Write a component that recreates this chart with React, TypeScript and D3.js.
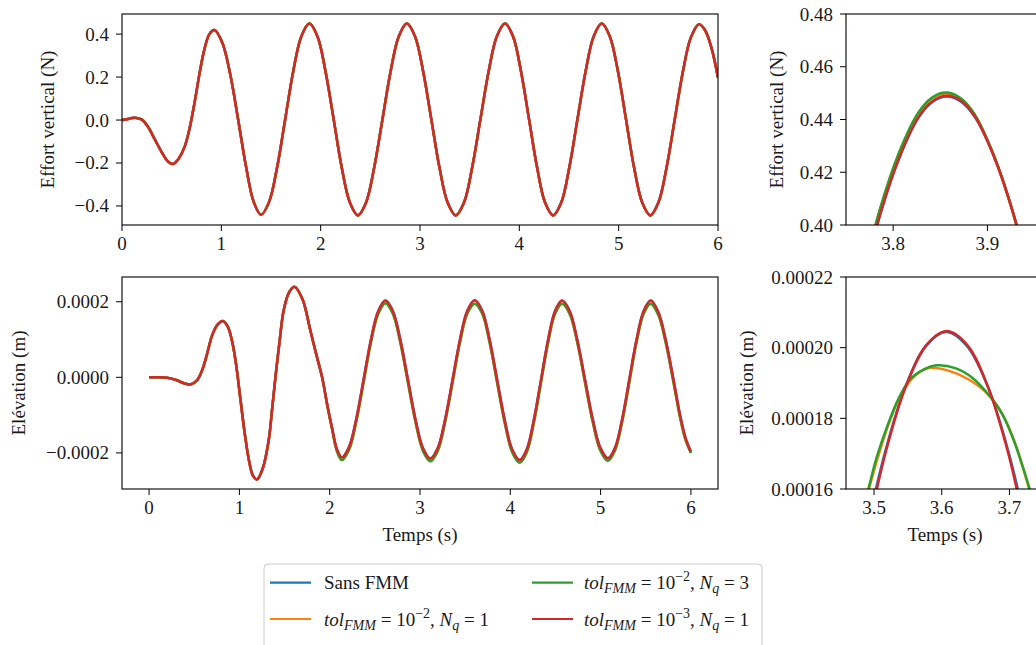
import React from 'react';
import * as d3 from 'd3';

// ---------- DATA ----------
const seriesLabels = ['Sans FMM', 'tol 1e-2 Nq 1', 'tol 1e-2 Nq 3', 'tol 1e-3 Nq 1'];
const seriesColors = ['#1f77b4', '#ff7f0e', '#2ca02c', '#d62728'];

// Effort vertical (N) vs Temps (s)
const forceTime = [0.000, 0.050, 0.100, 0.145, 0.200, 0.260, 0.330, 0.400, 0.460, 0.515, 0.570, 0.630, 0.680, 0.730, 0.780, 0.830, 0.880, 0.930,
  1.010, 1.090, 1.170, 1.250, 1.325, 1.400, 1.481, 1.562, 1.643, 1.724, 1.805, 1.886, 1.968, 2.049, 2.131, 2.212, 2.294, 2.375,
  2.457, 2.539, 2.622, 2.704, 2.786, 2.868, 2.950, 3.032, 3.114, 3.196, 3.278, 3.360, 3.443, 3.525, 3.608, 3.691, 3.773, 3.856,
  3.937, 4.017, 4.098, 4.179, 4.259, 4.340, 4.422, 4.503, 4.585, 4.667, 4.748, 4.830, 4.911, 4.993, 5.074, 5.155, 5.237, 5.318,
  5.400, 5.482, 5.564, 5.646, 5.728, 5.810, 5.870, 5.935, 6.000];
const forceValue = [0.000, 0.004, 0.009, 0.010, 0.002, -0.030, -0.090, -0.150, -0.192, -0.205, -0.180, -0.125, -0.040, 0.080, 0.215, 0.330, 0.400, 0.419,
  0.360, 0.212, 0.000, -0.220, -0.380, -0.441, -0.381, -0.219, 0.004, 0.227, 0.389, 0.449, 0.389, 0.226, 0.003, -0.221, -0.384, -0.444,
  -0.384, -0.221, 0.003, 0.226, 0.389, 0.449, 0.389, 0.226, 0.003, -0.221, -0.384, -0.444, -0.384, -0.221, 0.003, 0.226, 0.389, 0.449,
  0.389, 0.226, 0.003, -0.221, -0.384, -0.444, -0.384, -0.221, 0.003, 0.226, 0.389, 0.449, 0.389, 0.226, 0.003, -0.221, -0.384, -0.444,
  -0.384, -0.222, 0.001, 0.224, 0.386, 0.446, 0.418, 0.335, 0.197];

// Elévation (m) vs Temps (s)
const elevTime = [0.000, 0.100, 0.200, 0.300, 0.380, 0.457, 0.530, 0.587, 0.640, 0.698, 0.760, 0.815, 0.870, 0.915, 0.960, 1.010, 1.060, 1.110, 1.150, 1.196,
  1.260, 1.325, 1.362, 1.399, 1.445, 1.490, 1.550, 1.609, 1.697, 1.786, 1.850, 1.916, 1.975, 2.027, 2.080, 2.135,
  2.215, 2.296, 2.376, 2.456, 2.537, 2.617, 2.700, 2.783, 2.866, 2.949, 3.032, 3.115, 3.197, 3.279, 3.361, 3.442, 3.524, 3.606,
  3.689, 3.772, 3.855, 3.938, 4.021, 4.104, 4.182, 4.260, 4.339, 4.417, 4.495, 4.573, 4.658, 4.742, 4.827, 4.912, 4.996, 5.081,
  5.160, 5.239, 5.318, 5.397, 5.476, 5.555, 5.640, 5.720, 5.800, 5.880, 5.940, 6.000];
const elevSansFmm = [0.0, 0.0000005, -0.000001, -0.000007, -0.000015, -0.000019, -0.000008, 0.0000185, 0.00006, 0.000111, 0.00014, 0.000149, 0.000135, 0.0001, 0.00004, -0.000055, -0.00015, -0.000225, -0.00026, -0.00027,
  -0.00024, -0.000166, -0.000085, 0.0, 0.000095, 0.000177, 0.000225, 0.00024, 0.000208, 0.000124, 0.000062, 0.0, -0.000075, -0.000135, -0.00019, -0.000212,
  -0.000184, -0.000108, -0.000005, 0.000099, 0.000175, 0.000203, 0.000175, 0.0000985, -0.000006, -0.00011, -0.000187, -0.000215, -0.000187, -0.00011, -0.000006, 0.000099, 0.000176, 0.000204,
  0.000176, 0.0000983, -0.0000075, -0.000113, -0.000191, -0.000219, -0.000191, -0.0001135, -0.000008, 0.0000975, 0.000175, 0.000203, 0.000175, 0.0000987, -0.0000055, -0.00011, -0.000186, -0.000214,
  -0.000186, -0.00011, -0.0000055, 0.0000987, 0.000175, 0.000203, 0.000172, 0.0001, 0.000003, -0.0001, -0.00016, -0.000197];
const elevFmm = [0.0, 0.0000005, -0.000001, -0.000007, -0.000015, -0.000019, -0.000008, 0.0000185, 0.00006, 0.000111, 0.00014, 0.000149, 0.000135, 0.0001, 0.00004, -0.000055, -0.00015, -0.000225, -0.00026, -0.00027,
  -0.00024, -0.000166, -0.000085, 0.0, 0.000095, 0.000177, 0.000225, 0.00024, 0.000208, 0.000124, 0.000062, 0.0, -0.000077, -0.000138, -0.000195, -0.000219,
  -0.000191, -0.000115, -0.000012, 0.000092, 0.000168, 0.000196, 0.000168, 0.000091, -0.000013, -0.000117, -0.000194, -0.000222, -0.000194, -0.000117, -0.000013, 0.000092, 0.000169, 0.000195,
  0.000169, 0.000091, -0.000015, -0.00012, -0.000198, -0.000226, -0.000198, -0.000121, -0.000015, 0.00009, 0.000168, 0.000195, 0.000168, 0.000092, -0.000013, -0.000117, -0.000193, -0.000221,
  -0.000193, -0.000117, -0.000013, 0.000092, 0.000168, 0.000195, 0.000165, 0.000093, -0.000004, -0.000106, -0.000165, -0.0002];

// Zoom on a force peak
const zoomForceTimeA = [3.747, 3.767, 3.787, 3.807, 3.827, 3.842, 3.857, 3.872, 3.887, 3.907, 3.927, 3.947, 3.967];
const zoomForceTimeB = [3.746, 3.766, 3.786, 3.806, 3.826, 3.841, 3.856, 3.871, 3.886, 3.906, 3.926, 3.946, 3.966];
const zoomForceSansFmm = [0.343, 0.377, 0.4048, 0.4258, 0.4407, 0.4467, 0.4487, 0.4467, 0.4407, 0.4258, 0.4048, 0.377, 0.343];
const zoomForceTol2Nq1 = [0.344, 0.378, 0.4058, 0.427, 0.442, 0.448, 0.4499, 0.448, 0.442, 0.427, 0.4058, 0.378, 0.344];
const zoomForceTol2Nq3 = [0.344, 0.378, 0.406, 0.4272, 0.4422, 0.4482, 0.4502, 0.4482, 0.4422, 0.4272, 0.406, 0.378, 0.344];
const zoomForceTol3Nq1 = [0.343, 0.377, 0.405, 0.426, 0.441, 0.447, 0.449, 0.447, 0.441, 0.426, 0.405, 0.377, 0.343];

// Zoom on an elevation peak
const zoomElevTimeSansFmm = [3.4555, 3.4855, 3.5165, 3.5465, 3.577, 3.6065, 3.637, 3.668, 3.6985, 3.7295, 3.7595];
const zoomElevSansFmm = [0.0001145, 0.000145, 0.0001706, 0.000189, 0.0002005, 0.0002044, 0.0002005, 0.000189, 0.0001706, 0.000145, 0.0001145];
const zoomElevTimeTol2Nq1 = [3.46, 3.476, 3.4925, 3.505, 3.52, 3.536, 3.553, 3.568, 3.583, 3.61, 3.64, 3.67, 3.69, 3.71, 3.729, 3.742, 3.755];
const zoomElevTol2Nq1 = [0.000135, 0.000148, 0.00016, 0.0001685, 0.0001775, 0.0001852, 0.0001905, 0.0001932, 0.0001943, 0.0001935, 0.000191, 0.0001865, 0.000181, 0.000172, 0.00016, 0.000151, 0.000141];
const zoomElevTimeTol2Nq3 = [3.46, 3.475, 3.4916, 3.504, 3.519, 3.536, 3.553, 3.573, 3.593, 3.62, 3.645, 3.67, 3.69, 3.706, 3.721, 3.733, 3.745];
const zoomElevTol2Nq3 = [0.000136, 0.000148, 0.00016, 0.000169, 0.0001775, 0.0001855, 0.000191, 0.0001938, 0.000195, 0.0001942, 0.0001915, 0.0001865, 0.000181, 0.000174, 0.0001655, 0.000158, 0.00015];
const zoomElevTimeTol3Nq1 = [3.4575, 3.4875, 3.5175, 3.5475, 3.5775, 3.6075, 3.6375, 3.6675, 3.6975, 3.7275, 3.7575];
const zoomElevTol3Nq1 = [0.0001145, 0.000145, 0.0001706, 0.0001893, 0.0002008, 0.0002047, 0.0002008, 0.0001893, 0.0001706, 0.000145, 0.0001145];

// Ticks
const mainXTicks = [0, 1, 2, 3, 4, 5, 6];
const forceYTicks = [-0.4, -0.2, 0.0, 0.2, 0.4];
const forceYTickLabels = ['\u22120.4', '\u22120.2', '0.0', '0.2', '0.4'];
const elevYTicks = [-0.0002, 0.0, 0.0002];
const elevYTickLabels = ['\u22120.0002', '0.0000', '0.0002'];
const zoomForceXTicks = [3.8, 3.9, 4.0];
const zoomForceYTicks = [0.40, 0.42, 0.44, 0.46, 0.48];
const zoomForceYTickLabels = ['0.40', '0.42', '0.44', '0.46', '0.48'];
const zoomElevXTicks = [3.5, 3.6, 3.7, 3.8];
const zoomElevYTicks = [0.00016, 0.00018, 0.00020, 0.00022];
const zoomElevYTickLabels = ['0.00016', '0.00018', '0.00020', '0.00022'];

// ---------- RENDER ----------
const W = 1036;
const H = 645;
const FONT = "'Liberation Serif','Times New Roman',serif";
const FS = 19;
const TICK = 6;

type Pt = [number, number];
type Series = { color: string; pts: Pt[] };

const zip = (t: number[], v: number[]): Pt[] => t.map((x, i) => [x, v[i]] as Pt);

function padded(vals: number[]): [number, number] {
  const [a, b] = d3.extent(vals) as [number, number];
  const m = (b - a) * 0.05;
  return [a - m, b + m];
}

interface PanelProps {
  id: string;
  left: number; top: number; width: number; height: number;
  xDomain: [number, number]; yDomain: [number, number];
  xTicks: number[]; xFmt: (v: number) => string;
  yTicks: number[]; yTickLabels: string[];
  series: Series[];
  yLabel: string; yLabelX: number;
  xLabel?: string;
}

function Panel(p: PanelProps) {
  const x = d3.scaleLinear().domain(p.xDomain).range([p.left, p.left + p.width]);
  const y = d3.scaleLinear().domain(p.yDomain).range([p.top + p.height, p.top]);
  const line = d3.line<Pt>().x(d => x(d[0])).y(d => y(d[1])).curve(d3.curveCatmullRom.alpha(0.5));
  const bottom = p.top + p.height;
  const xt = p.xTicks.filter(t => t >= p.xDomain[0] - 1e-9 && t <= p.xDomain[1] + 1e-9);
  return (
    <g>
      <defs>
        <clipPath id={p.id}>
          <rect x={p.left} y={p.top} width={p.width} height={p.height} />
        </clipPath>
      </defs>
      <g clipPath={`url(#${p.id})`}>
        {p.series.map((s, i) => (
          <path key={i} d={line(s.pts) || ''} fill="none" stroke={s.color} strokeWidth={2.5}
            strokeLinejoin="round" strokeLinecap="butt" />
        ))}
      </g>
      <rect x={p.left} y={p.top} width={p.width} height={p.height} fill="none" stroke="#000" strokeWidth={1.1} />
      {xt.map(t => (
        <g key={'x' + t}>
          <line x1={x(t)} x2={x(t)} y1={bottom} y2={bottom + TICK} stroke="#000" strokeWidth={1} />
          <text x={x(t)} y={bottom + 25} textAnchor="middle" fontFamily={FONT} fontSize={FS} fill="#1a1a1a">{p.xFmt(t)}</text>
        </g>
      ))}
      {p.yTicks.map((t, i) => (
        <g key={'y' + i}>
          <line x1={p.left - TICK} x2={p.left} y1={y(t)} y2={y(t)} stroke="#000" strokeWidth={1} />
          <text x={p.left - 13} y={y(t) + 6.5} textAnchor="end" fontFamily={FONT} fontSize={FS} fill="#1a1a1a">{p.yTickLabels[i]}</text>
        </g>
      ))}
      <text transform={`translate(${p.yLabelX},${p.top + p.height / 2}) rotate(-90)`} textAnchor="middle"
        fontFamily={FONT} fontSize={FS} fill="#1a1a1a">{p.yLabel}</text>
      {p.xLabel && (
        <text x={p.left + p.width / 2} y={bottom + 52} textAnchor="middle" fontFamily={FONT} fontSize={FS} fill="#1a1a1a">{p.xLabel}</text>
      )}
    </g>
  );
}

function MathLabel({ x, y, exp, nq }: { x: number; y: number; exp: string; nq: string }) {
  const sub = 14;
  return (
    <text x={x} y={y} fontFamily={FONT} fontSize={FS} fill="#1a1a1a" xmlSpace="preserve">
      <tspan fontStyle="italic">tol</tspan>
      <tspan fontStyle="italic" fontSize={sub} dy={4}>FMM</tspan>
      <tspan dy={-4}>{' = 10'}</tspan>
      <tspan fontSize={sub} dy={-8}>{'\u2212' + exp}</tspan>
      <tspan dy={8}>{', '}</tspan>
      <tspan fontStyle="italic">N</tspan>
      <tspan fontStyle="italic" fontSize={sub} dy={4}>q</tspan>
      <tspan dy={-4}>{' = ' + nq}</tspan>
    </text>
  );
}

export default function App() {
  const forceSeries: Series[] = seriesColors.map(c => ({ color: c, pts: zip(forceTime, forceValue) }));
  const elevSeries: Series[] = [
    { color: seriesColors[0], pts: zip(elevTime, elevSansFmm) },
    { color: seriesColors[1], pts: zip(elevTime, elevFmm) },
    { color: seriesColors[2], pts: zip(elevTime, elevFmm) },
    { color: seriesColors[3], pts: zip(elevTime, elevSansFmm) },
  ];
  const zForce: Series[] = [
    { color: seriesColors[0], pts: zip(zoomForceTimeA, zoomForceSansFmm) },
    { color: seriesColors[1], pts: zip(zoomForceTimeB, zoomForceTol2Nq1) },
    { color: seriesColors[2], pts: zip(zoomForceTimeB, zoomForceTol2Nq3) },
    { color: seriesColors[3], pts: zip(zoomForceTimeA, zoomForceTol3Nq1) },
  ];
  const zElev: Series[] = [
    { color: seriesColors[0], pts: zip(zoomElevTimeSansFmm, zoomElevSansFmm) },
    { color: seriesColors[1], pts: zip(zoomElevTimeTol2Nq1, zoomElevTol2Nq1) },
    { color: seriesColors[2], pts: zip(zoomElevTimeTol2Nq3, zoomElevTol2Nq3) },
    { color: seriesColors[3], pts: zip(zoomElevTimeTol3Nq1, zoomElevTol3Nq1) },
  ];

  const fmtInt = (v: number) => String(v);
  const fmt1 = (v: number) => v.toFixed(1);

  const legendRows = [582.7, 619];
  const legendCols = [270, 532];

  return (
    <svg width={W} height={H} style={{ position: 'absolute', left: 0, top: 0, background: '#fff' }}>
      <rect x={0} y={0} width={W} height={H} fill="#fff" />
      <Panel id="c1" left={122} top={14} width={596} height={211}
        xDomain={[0, 6]} yDomain={padded(forceValue)}
        xTicks={mainXTicks} xFmt={fmtInt} yTicks={forceYTicks} yTickLabels={forceYTickLabels}
        series={forceSeries} yLabel="Effort vertical (N)" yLabelX={54} />
      <Panel id="c2" left={122} top={277} width={596} height={212}
        xDomain={[-0.3, 6.3]} yDomain={padded([...elevSansFmm, ...elevFmm])}
        xTicks={mainXTicks} xFmt={fmtInt} yTicks={elevYTicks} yTickLabels={elevYTickLabels}
        series={elevSeries} yLabel="Elévation (m)" yLabelX={25} xLabel="Temps (s)" />
      <Panel id="c3" left={846} top={14} width={198} height={211}
        xDomain={[3.75, 3.96]} yDomain={[0.40, 0.48]}
        xTicks={zoomForceXTicks} xFmt={fmt1} yTicks={zoomForceYTicks} yTickLabels={zoomForceYTickLabels}
        series={zForce} yLabel="Effort vertical (N)" yLabelX={783} />
      <Panel id="c4" left={846} top={277} width={198} height={212}
        xDomain={[3.4586, 3.751]} yDomain={[0.00016, 0.00022]}
        xTicks={zoomElevXTicks} xFmt={fmt1} yTicks={zoomElevYTicks} yTickLabels={zoomElevYTickLabels}
        series={zElev} yLabel="Elévation (m)" yLabelX={753} xLabel="Temps (s)" />

      <g>
        <rect x={264} y={564} width={498} height={92} rx={4} fill="#fff" fillOpacity={0.8} stroke="#cccccc" strokeWidth={1} />
        {seriesColors.map((c, i) => {
          const col = i < 2 ? 0 : 1;
          const row = i % 2;
          const lx = legendCols[col];
          const ly = legendRows[row];
          return <line key={i} x1={lx} x2={lx + 41} y1={ly} y2={ly} stroke={c} strokeWidth={2.2} />;
        })}
        <text x={324} y={legendRows[0] + 6.5} fontFamily={FONT} fontSize={FS} fill="#1a1a1a">{seriesLabels[0]}</text>
        <MathLabel x={324} y={legendRows[1] + 6.5} exp="2" nq="1" />
        <MathLabel x={584} y={legendRows[0] + 6.5} exp="2" nq="3" />
        <MathLabel x={584} y={legendRows[1] + 6.5} exp="3" nq="1" />
      </g>
    </svg>
  );
}
